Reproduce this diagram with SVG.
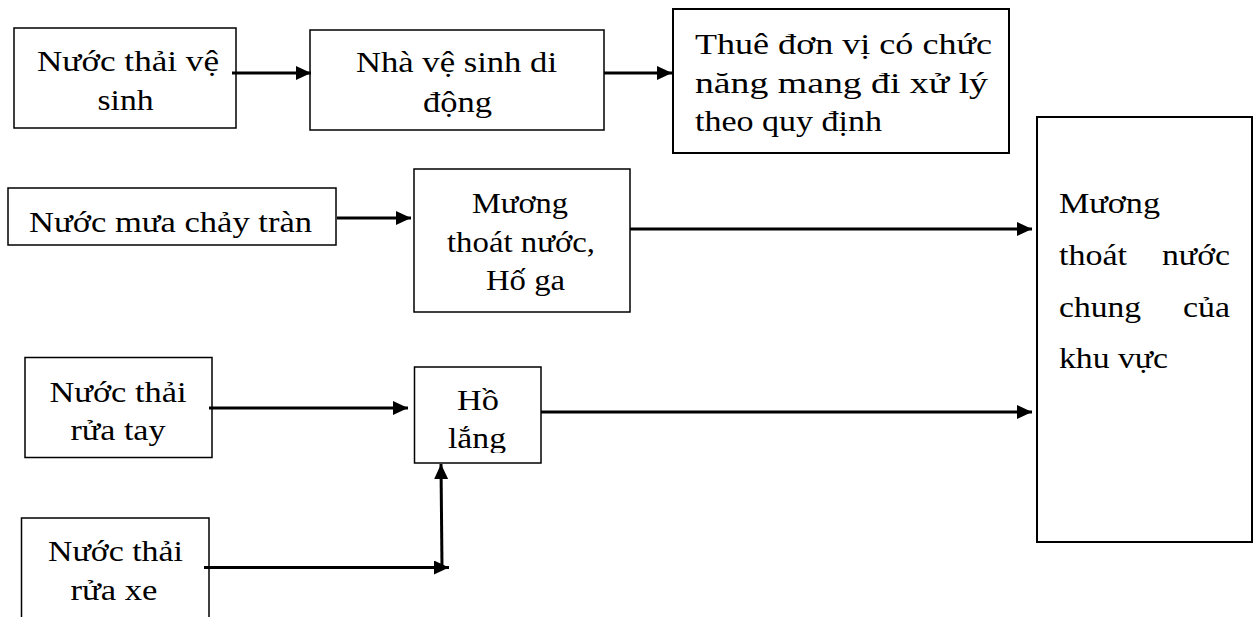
<svg xmlns="http://www.w3.org/2000/svg" width="1259" height="617" viewBox="0 0 1259 617">
<style>
.box{fill:#fff;stroke:#000;stroke-width:1.5}
.bx2{fill:#fff;stroke:#000;stroke-width:2}
.t{font-family:"Liberation Serif","Times New Roman",serif;font-size:30px;fill:#000}
.c{fill:none;stroke:#000;stroke-width:3}
</style>
<defs>
<marker id="ah" viewBox="0 0 15 14" refX="15" refY="7" markerWidth="15" markerHeight="14" markerUnits="userSpaceOnUse" orient="auto">
<path d="M0,0 L15,7 L0,14 z" fill="#000"/>
</marker>
<clipPath id="clip4"><rect x="8" y="188" width="328" height="55"/></clipPath>
<clipPath id="clipHo"><rect x="415" y="367" width="126" height="86"/></clipPath>
</defs>
<rect width="1259" height="617" fill="#fff"/>

<g id="n1">
<rect class="box" x="14" y="28" width="222" height="100"/>
<text class="t" x="37" y="70.5" textLength="182" lengthAdjust="spacingAndGlyphs">Nước thải vệ</text>
<text class="t" x="97.5" y="110" textLength="56" lengthAdjust="spacingAndGlyphs">sinh</text>
</g>
<g id="n2">
<rect class="box" x="310" y="30" width="294" height="100"/>
<text class="t" x="356" y="72" textLength="201" lengthAdjust="spacingAndGlyphs">Nhà vệ sinh di</text>
<text class="t" x="423" y="112" textLength="69" lengthAdjust="spacingAndGlyphs">động</text>
</g>
<g id="n3">
<rect class="bx2" x="673" y="9" width="336" height="144"/>
<text class="t" x="695" y="54" textLength="297" lengthAdjust="spacingAndGlyphs">Thuê đơn vị có chức</text>
<text class="t" x="695" y="93" textLength="293" lengthAdjust="spacingAndGlyphs">năng mang đi xử lý</text>
<text class="t" x="695" y="131" textLength="187" lengthAdjust="spacingAndGlyphs">theo quy định</text>
</g>
<g id="n4">
<rect class="box" x="8" y="188" width="328" height="57"/>
<text class="t" x="29" y="232" textLength="283" lengthAdjust="spacingAndGlyphs" clip-path="url(#clip4)">Nước mưa chảy tràn</text>
</g>
<g id="n5">
<rect class="box" x="414" y="169" width="216" height="143"/>
<text class="t" x="472" y="213" textLength="96" lengthAdjust="spacingAndGlyphs">Mương</text>
<text class="t" x="447" y="252" textLength="148" lengthAdjust="spacingAndGlyphs">thoát nước,</text>
<text class="t" x="486" y="290" textLength="79" lengthAdjust="spacingAndGlyphs">Hố ga</text>
</g>
<g id="n6">
<rect class="bx2" x="1037" y="117" width="215" height="425"/>
<text class="t" x="1059" y="213" textLength="101" lengthAdjust="spacingAndGlyphs">Mương</text>
<text class="t" x="1059" y="265" textLength="68" lengthAdjust="spacingAndGlyphs">thoát</text>
<text class="t" x="1162" y="265" textLength="68" lengthAdjust="spacingAndGlyphs">nước</text>
<text class="t" x="1059" y="317" textLength="82" lengthAdjust="spacingAndGlyphs">chung</text>
<text class="t" x="1183" y="317" textLength="47" lengthAdjust="spacingAndGlyphs">của</text>
<text class="t" x="1059" y="368" textLength="109" lengthAdjust="spacingAndGlyphs">khu vực</text>
</g>
<g id="n7">
<rect class="box" x="25" y="357.5" width="187" height="100"/>
<text class="t" x="49.5" y="401.5" textLength="137" lengthAdjust="spacingAndGlyphs">Nước thải</text>
<text class="t" x="70.5" y="440" textLength="95" lengthAdjust="spacingAndGlyphs">rửa tay</text>
</g>
<g id="n8">
<rect class="box" x="414.5" y="367" width="126.5" height="96"/>
<g clip-path="url(#clipHo)">
<text class="t" x="457" y="410" textLength="42" lengthAdjust="spacingAndGlyphs">Hồ</text>
<text class="t" x="448" y="448" textLength="58" lengthAdjust="spacingAndGlyphs">lắng</text>
</g>
</g>
<g id="n9">
<path class="box" d="M21.5,618 L21.5,518 L209,518 L209,618"/>
<text class="t" x="48" y="561" textLength="135" lengthAdjust="spacingAndGlyphs">Nước thải</text>
<text class="t" x="70.5" y="600" textLength="87" lengthAdjust="spacingAndGlyphs">rửa xe</text>
</g>

<g id="connectors">
<line class="c" x1="232" y1="73" x2="311" y2="73" marker-end="url(#ah)"/>
<line class="c" x1="604" y1="73" x2="672" y2="73" marker-end="url(#ah)"/>
<line class="c" x1="337" y1="218" x2="411" y2="218" marker-end="url(#ah)"/>
<line class="c" x1="630" y1="229" x2="1032" y2="229" marker-end="url(#ah)"/>
<line class="c" x1="209" y1="408" x2="408" y2="408" marker-end="url(#ah)"/>
<line class="c" x1="541" y1="412" x2="1032" y2="412" marker-end="url(#ah)"/>
<line class="c" x1="204" y1="567.5" x2="449" y2="567.5" marker-end="url(#ah)"/>
<line class="c" x1="442" y1="567" x2="441" y2="464" marker-end="url(#ah)"/>
</g>
</svg>
